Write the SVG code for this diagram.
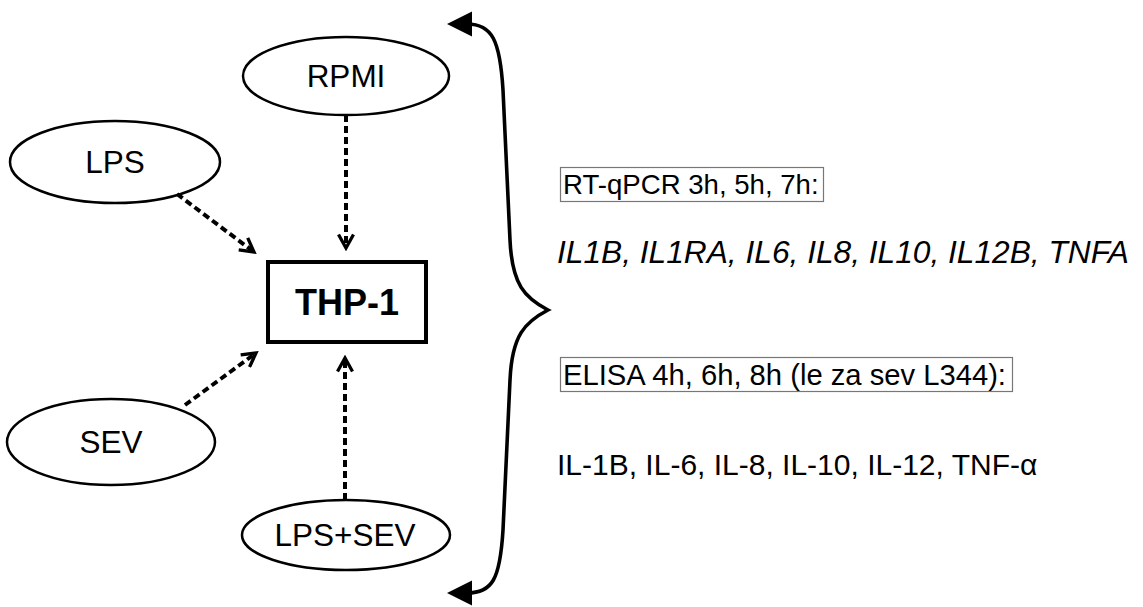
<svg xmlns="http://www.w3.org/2000/svg" width="1143" height="607" viewBox="0 0 1143 607">
  <style>
    .node ellipse { fill: #fff; stroke: #000; stroke-width: 2.5; }
    .lbl { font-family: "Liberation Sans", Arial, sans-serif; font-size: 31.5px; fill: #000; }
    .mid { text-anchor: middle; }
    .title { font-size: 36px; font-weight: bold; }
    .s-rt { font-size: 27.6px; }
    .s-gene { font-size: 31.7px; font-style: italic; }
    .s-elisa { font-size: 29.2px; }
    .s-prot { font-size: 30px; }
    .conn { fill: none; stroke: #000; stroke-width: 4; stroke-dasharray: 7 4; }
    .tag { fill: none; stroke: #777; stroke-width: 1.2; }
  </style>
  <defs>
    <marker id="open" viewBox="0 0 12 12" refX="10" refY="6" markerWidth="4.5" markerHeight="4.5" markerUnits="strokeWidth" orient="auto">
      <path d="M1,1 L10,6 L1,11" fill="none" stroke="#000" stroke-width="2.2"/>
    </marker>
    <marker id="solid" viewBox="0 0 10 10" refX="2" refY="5" markerWidth="7" markerHeight="7" markerUnits="strokeWidth" orient="auto-start-reverse">
      <path d="M0,0 L10,5 L0,10 Z" fill="#000"/>
    </marker>
  </defs>

  <!-- input conditions -->
  <g id="rpmi" class="node">
    <ellipse cx="346" cy="76" rx="103" ry="39"/>
    <text class="lbl mid" x="346" y="87">RPMI</text>
  </g>
  <g id="lps" class="node">
    <ellipse cx="115" cy="162" rx="105" ry="41"/>
    <text class="lbl mid" x="115" y="173">LPS</text>
  </g>
  <g id="sev" class="node">
    <ellipse cx="111" cy="442" rx="104" ry="43"/>
    <text class="lbl mid" x="111" y="453">SEV</text>
  </g>
  <g id="lps-sev" class="node">
    <ellipse cx="346" cy="535" rx="104" ry="35"/>
    <text class="lbl mid" x="345" y="546">LPS+SEV</text>
  </g>

  <!-- cell line -->
  <g id="thp1">
    <rect x="268" y="262" width="158" height="80" fill="#fff" stroke="#000" stroke-width="4"/>
    <text class="lbl mid title" x="347" y="315">THP-1</text>
  </g>

  <!-- treatments -> cells -->
  <g id="connectors">
    <path class="conn" d="M346,115 L346,248" marker-end="url(#open)"/>
    <path class="conn" d="M177,194 L254,252" marker-end="url(#open)"/>
    <path class="conn" d="M185,405 L256,353" marker-end="url(#open)"/>
    <path class="conn" d="M345,500 L345,358" marker-end="url(#open)"/>
    <!-- curly brace with arrow ends -->
    <path d="M467,24 C492,24 500,40 503,90 L510,240 C512,285 525,298 548,310 C525,322 512,335 510,380 L503,530 C500,580 492,593 467,593" fill="none" stroke="#000" stroke-width="3.6" marker-start="url(#solid)" marker-end="url(#solid)"/>
  </g>

  <!-- readouts -->
  <g id="rtqpcr">
    <rect class="tag" x="560.5" y="167.5" width="263" height="34"/>
    <text class="lbl s-rt" x="563" y="194">RT-qPCR 3h, 5h, 7h:</text>
    <text class="lbl s-gene" x="557" y="263">IL1B, IL1RA, IL6, IL8, IL10, IL12B, TNFA</text>
  </g>
  <g id="elisa">
    <rect class="tag" x="560.5" y="357.5" width="452" height="34"/>
    <text class="lbl s-elisa" x="563" y="385">ELISA 4h, 6h, 8h (le za sev L344):</text>
    <text class="lbl s-prot" x="557" y="475">IL-1B, IL-6, IL-8, IL-10, IL-12, TNF-α</text>
  </g>
</svg>
